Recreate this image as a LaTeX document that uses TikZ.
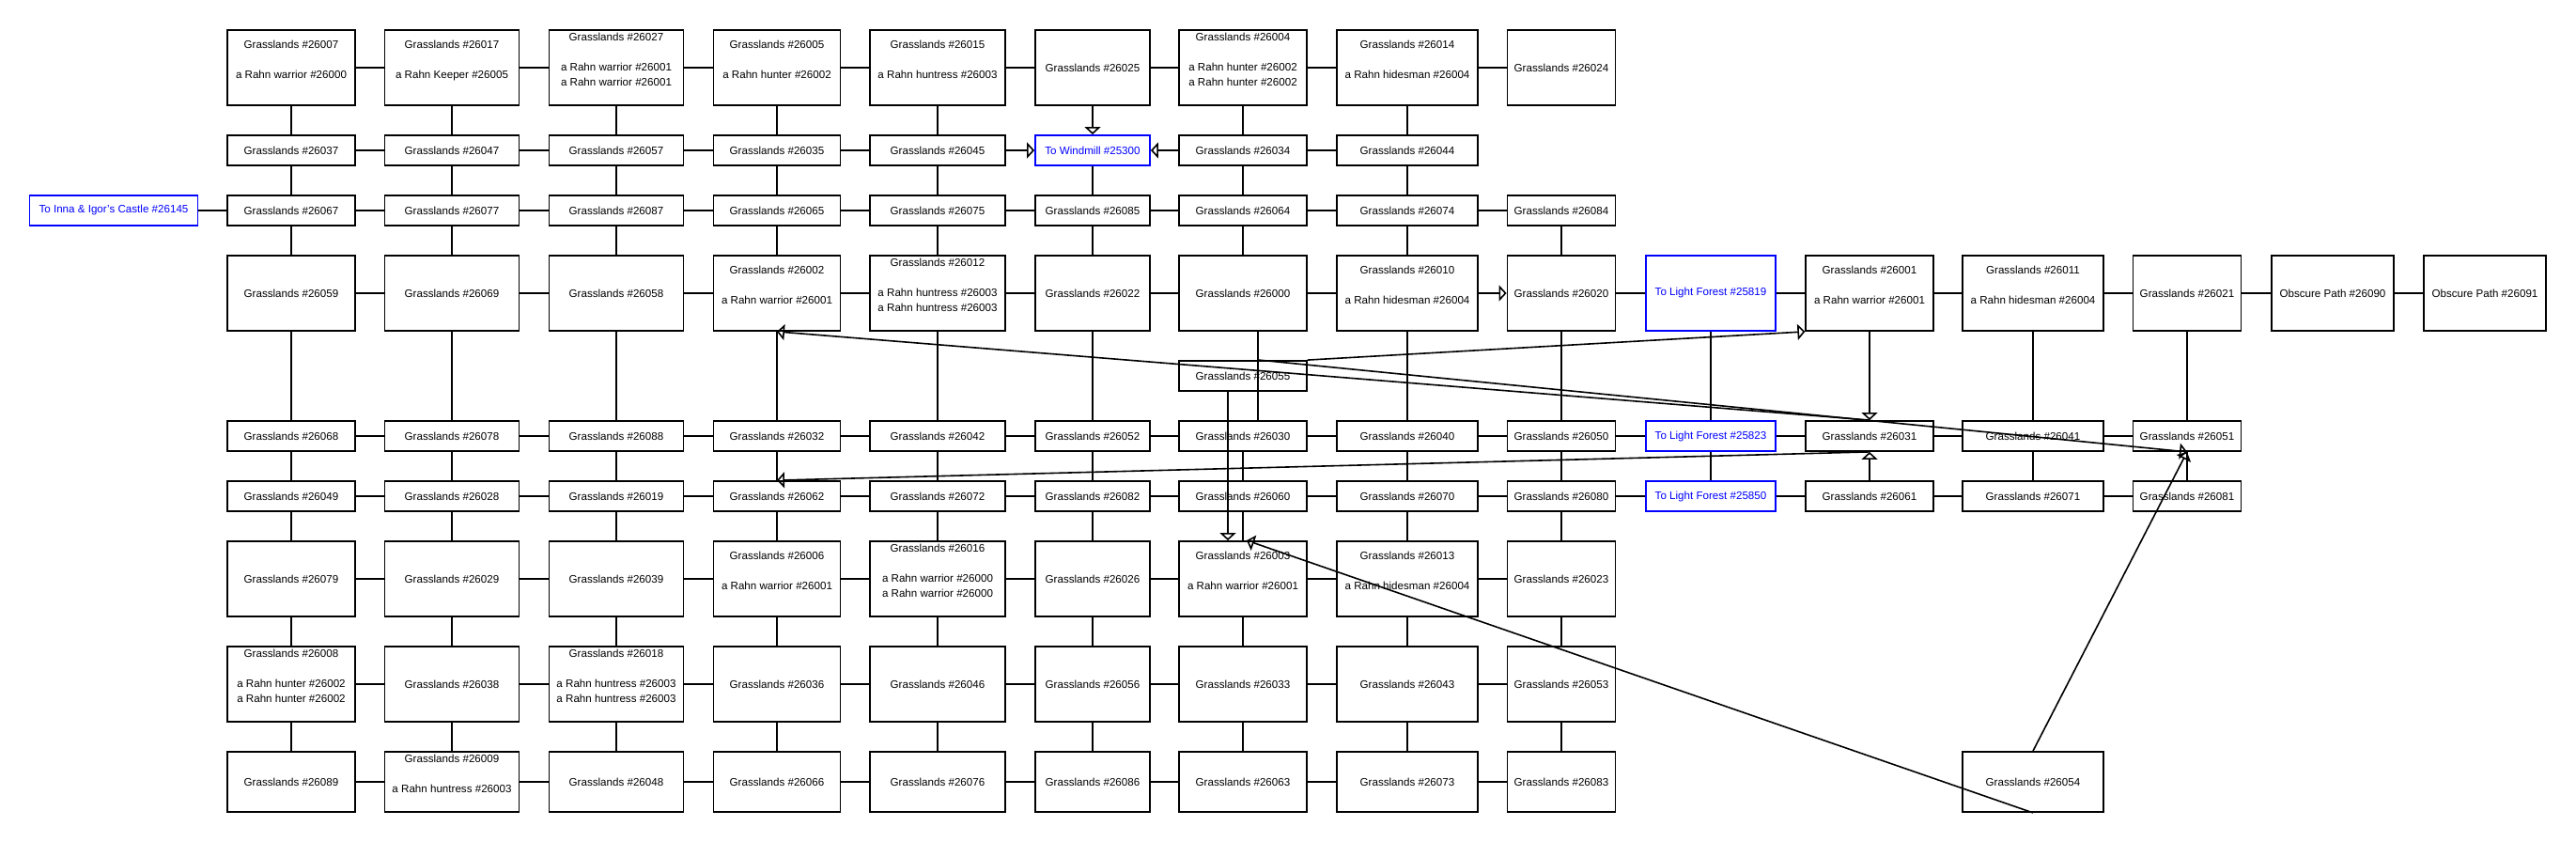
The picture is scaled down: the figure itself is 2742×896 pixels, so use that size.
\documentclass[tikz,border=0pt]{standalone}
\usepackage{fontspec}
\setmainfont{Liberation Sans}
\usetikzlibrary{arrows.meta}
\definecolor{exitblue}{HTML}{0000FF}

\tikzset{
  room/.style={draw, line width=1.8pt, inner sep=0pt, align=center, font=\fontsize{11.6}{16}\selectfont},
  exitroom/.style={room, draw=exitblue, text=exitblue},
  tallbox/.style={minimum height=80pt},
  flatbox/.style={minimum height=32pt},
  lowbox/.style={minimum height=64pt},
  colX/.style={minimum width=179pt},
  colA/.style={minimum width=135.5pt},
  colB/.style={minimum width=143pt},
  colC/.style={minimum width=143pt},
  colD/.style={minimum width=135pt},
  colE/.style={minimum width=143.5pt},
  colF/.style={minimum width=122pt},
  colG/.style={minimum width=135.5pt},
  colH/.style={minimum width=150pt},
  colI/.style={minimum width=115pt},
  colJ/.style={minimum width=138pt},
  colK/.style={minimum width=135.5pt},
  colL/.style={minimum width=150pt},
  colM/.style={minimum width=115pt},
  colN/.style={minimum width=130pt},
  colO/.style={minimum width=130pt},
  link/.style={line width=1.6pt},
  oneway/.style={link, -{Triangle[open, length=8pt, width=17pt]}}
}

\begin{document}
\begin{tikzpicture}[x=1pt, y=-1pt]
  \useasboundingbox (0,0) rectangle (2742,896);

  % row 1
  \node[room, tallbox, colA] (a1) at (310,72) {\strut Grasslands \#26007\\\strut\\\strut a Rahn warrior \#26000\\\strut};
  \node[room, tallbox, colB] (b1) at (481,72) {\strut Grasslands \#26017\\\strut\\\strut a Rahn Keeper \#26005\\\strut};
  \node[room, tallbox, colC] (c1) at (656,72) {\strut Grasslands \#26027\\\strut\\\strut a Rahn warrior \#26001\\\strut a Rahn warrior \#26001\\\strut};
  \node[room, tallbox, colD] (d1) at (827,72) {\strut Grasslands \#26005\\\strut\\\strut a Rahn hunter \#26002\\\strut};
  \node[room, tallbox, colE] (e1) at (998,72) {\strut Grasslands \#26015\\\strut\\\strut a Rahn huntress \#26003\\\strut};
  \node[room, tallbox, colF] (f1) at (1163,72) {Grasslands \#26025};
  \node[room, tallbox, colG] (g1) at (1323,72) {\strut Grasslands \#26004\\\strut\\\strut a Rahn hunter \#26002\\\strut a Rahn hunter \#26002\\\strut};
  \node[room, tallbox, colH] (h1) at (1498,72) {\strut Grasslands \#26014\\\strut\\\strut a Rahn hidesman \#26004\\\strut};
  \node[room, tallbox, colI] (i1) at (1662,72) {Grasslands \#26024};

  % row 2
  \node[room, flatbox, colA] (a2) at (310,160) {Grasslands \#26037};
  \node[room, flatbox, colB] (b2) at (481,160) {Grasslands \#26047};
  \node[room, flatbox, colC] (c2) at (656,160) {Grasslands \#26057};
  \node[room, flatbox, colD] (d2) at (827,160) {Grasslands \#26035};
  \node[room, flatbox, colE] (e2) at (998,160) {Grasslands \#26045};
  \node[exitroom, flatbox, colF] (f2) at (1163,160) {To Windmill \#25300};
  \node[room, flatbox, colG] (g2) at (1323,160) {Grasslands \#26034};
  \node[room, flatbox, colH] (h2) at (1498,160) {Grasslands \#26044};

  % row 3
  \node[exitroom, flatbox, colX] (castle) at (121,224) {To Inna \& Igor's Castle \#26145};
  \node[room, flatbox, colA] (a3) at (310,224) {Grasslands \#26067};
  \node[room, flatbox, colB] (b3) at (481,224) {Grasslands \#26077};
  \node[room, flatbox, colC] (c3) at (656,224) {Grasslands \#26087};
  \node[room, flatbox, colD] (d3) at (827,224) {Grasslands \#26065};
  \node[room, flatbox, colE] (e3) at (998,224) {Grasslands \#26075};
  \node[room, flatbox, colF] (f3) at (1163,224) {Grasslands \#26085};
  \node[room, flatbox, colG] (g3) at (1323,224) {Grasslands \#26064};
  \node[room, flatbox, colH] (h3) at (1498,224) {Grasslands \#26074};
  \node[room, flatbox, colI] (i3) at (1662,224) {Grasslands \#26084};

  % row 4
  \node[room, tallbox, colA] (a4) at (310,312) {Grasslands \#26059};
  \node[room, tallbox, colB] (b4) at (481,312) {Grasslands \#26069};
  \node[room, tallbox, colC] (c4) at (656,312) {Grasslands \#26058};
  \node[room, tallbox, colD] (d4) at (827,312) {\strut Grasslands \#26002\\\strut\\\strut a Rahn warrior \#26001\\\strut};
  \node[room, tallbox, colE] (e4) at (998,312) {\strut Grasslands \#26012\\\strut\\\strut a Rahn huntress \#26003\\\strut a Rahn huntress \#26003\\\strut};
  \node[room, tallbox, colF] (f4) at (1163,312) {Grasslands \#26022};
  \node[room, tallbox, colG] (g4) at (1323,312) {Grasslands \#26000};
  \node[room, tallbox, colH] (h4) at (1498,312) {\strut Grasslands \#26010\\\strut\\\strut a Rahn hidesman \#26004\\\strut};
  \node[room, tallbox, colI] (i4) at (1662,312) {Grasslands \#26020};
  \node[exitroom, tallbox, colJ] (j4) at (1821,312) {To Light Forest \#25819};
  \node[room, tallbox, colK] (k4) at (1990,312) {\strut Grasslands \#26001\\\strut\\\strut a Rahn warrior \#26001\\\strut};
  \node[room, tallbox, colL] (l4) at (2164,312) {\strut Grasslands \#26011\\\strut\\\strut a Rahn hidesman \#26004\\\strut};
  \node[room, tallbox, colM] (m4) at (2328,312) {Grasslands \#26021};
  \node[room, tallbox, colN] (n4) at (2483,312) {Obscure Path \#26090};
  \node[room, tallbox, colO] (o4) at (2645,312) {Obscure Path \#26091};

  % stray room between rows 4 and 5
  \node[room, flatbox, colG] (g45) at (1323,400) {Grasslands \#26055};

  % row 5
  \node[room, flatbox, colA] (a5) at (310,464) {Grasslands \#26068};
  \node[room, flatbox, colB] (b5) at (481,464) {Grasslands \#26078};
  \node[room, flatbox, colC] (c5) at (656,464) {Grasslands \#26088};
  \node[room, flatbox, colD] (d5) at (827,464) {Grasslands \#26032};
  \node[room, flatbox, colE] (e5) at (998,464) {Grasslands \#26042};
  \node[room, flatbox, colF] (f5) at (1163,464) {Grasslands \#26052};
  \node[room, flatbox, colG] (g5) at (1323,464) {Grasslands \#26030};
  \node[room, flatbox, colH] (h5) at (1498,464) {Grasslands \#26040};
  \node[room, flatbox, colI] (i5) at (1662,464) {Grasslands \#26050};
  \node[exitroom, flatbox, colJ] (j5) at (1821,464) {To Light Forest \#25823};
  \node[room, flatbox, colK] (k5) at (1990,464) {Grasslands \#26031};
  \node[room, flatbox, colL] (l5) at (2164,464) {Grasslands \#26041};
  \node[room, flatbox, colM] (m5) at (2328,464) {Grasslands \#26051};

  % row 6
  \node[room, flatbox, colA] (a6) at (310,528) {Grasslands \#26049};
  \node[room, flatbox, colB] (b6) at (481,528) {Grasslands \#26028};
  \node[room, flatbox, colC] (c6) at (656,528) {Grasslands \#26019};
  \node[room, flatbox, colD] (d6) at (827,528) {Grasslands \#26062};
  \node[room, flatbox, colE] (e6) at (998,528) {Grasslands \#26072};
  \node[room, flatbox, colF] (f6) at (1163,528) {Grasslands \#26082};
  \node[room, flatbox, colG] (g6) at (1323,528) {Grasslands \#26060};
  \node[room, flatbox, colH] (h6) at (1498,528) {Grasslands \#26070};
  \node[room, flatbox, colI] (i6) at (1662,528) {Grasslands \#26080};
  \node[exitroom, flatbox, colJ] (j6) at (1821,528) {To Light Forest \#25850};
  \node[room, flatbox, colK] (k6) at (1990,528) {Grasslands \#26061};
  \node[room, flatbox, colL] (l6) at (2164,528) {Grasslands \#26071};
  \node[room, flatbox, colM] (m6) at (2328,528) {Grasslands \#26081};

  % row 7
  \node[room, tallbox, colA] (a7) at (310,616) {Grasslands \#26079};
  \node[room, tallbox, colB] (b7) at (481,616) {Grasslands \#26029};
  \node[room, tallbox, colC] (c7) at (656,616) {Grasslands \#26039};
  \node[room, tallbox, colD] (d7) at (827,616) {\strut Grasslands \#26006\\\strut\\\strut a Rahn warrior \#26001\\\strut};
  \node[room, tallbox, colE] (e7) at (998,616) {\strut Grasslands \#26016\\\strut\\\strut a Rahn warrior \#26000\\\strut a Rahn warrior \#26000\\\strut};
  \node[room, tallbox, colF] (f7) at (1163,616) {Grasslands \#26026};
  \node[room, tallbox, colG] (g7) at (1323,616) {\strut Grasslands \#26003\\\strut\\\strut a Rahn warrior \#26001\\\strut};
  \node[room, tallbox, colH] (h7) at (1498,616) {\strut Grasslands \#26013\\\strut\\\strut a Rahn hidesman \#26004\\\strut};
  \node[room, tallbox, colI] (i7) at (1662,616) {Grasslands \#26023};

  % row 8
  \node[room, tallbox, colA] (a8) at (310,728) {\strut Grasslands \#26008\\\strut\\\strut a Rahn hunter \#26002\\\strut a Rahn hunter \#26002\\\strut};
  \node[room, tallbox, colB] (b8) at (481,728) {Grasslands \#26038};
  \node[room, tallbox, colC] (c8) at (656,728) {\strut Grasslands \#26018\\\strut\\\strut a Rahn huntress \#26003\\\strut a Rahn huntress \#26003\\\strut};
  \node[room, tallbox, colD] (d8) at (827,728) {Grasslands \#26036};
  \node[room, tallbox, colE] (e8) at (998,728) {Grasslands \#26046};
  \node[room, tallbox, colF] (f8) at (1163,728) {Grasslands \#26056};
  \node[room, tallbox, colG] (g8) at (1323,728) {Grasslands \#26033};
  \node[room, tallbox, colH] (h8) at (1498,728) {Grasslands \#26043};
  \node[room, tallbox, colI] (i8) at (1662,728) {Grasslands \#26053};

  % row 9
  \node[room, lowbox, colA] (a9) at (310,832) {Grasslands \#26089};
  \node[room, lowbox, colB] (b9) at (481,832) {\strut Grasslands \#26009\\\strut\\\strut a Rahn huntress \#26003\\\strut};
  \node[room, lowbox, colC] (c9) at (656,832) {Grasslands \#26048};
  \node[room, lowbox, colD] (d9) at (827,832) {Grasslands \#26066};
  \node[room, lowbox, colE] (e9) at (998,832) {Grasslands \#26076};
  \node[room, lowbox, colF] (f9) at (1163,832) {Grasslands \#26086};
  \node[room, lowbox, colG] (g9) at (1323,832) {Grasslands \#26063};
  \node[room, lowbox, colH] (h9) at (1498,832) {Grasslands \#26073};
  \node[room, lowbox, colI] (i9) at (1662,832) {Grasslands \#26083};
  \node[room, lowbox, colL] (l9) at (2164,832) {Grasslands \#26054};

  % east-west passages
  \foreach \r in {1,3,7,8,9}
    \foreach \p/\q in {a/b,b/c,c/d,d/e,e/f,f/g,g/h,h/i}
      \draw[link] (\p\r) -- (\q\r);
  \foreach \r in {5,6}
    \foreach \p/\q in {a/b,b/c,c/d,d/e,e/f,f/g,g/h,h/i,i/j,j/k,k/l,l/m}
      \draw[link] (\p\r) -- (\q\r);
  \foreach \p/\q in {a/b,b/c,c/d,d/e,g/h}
    \draw[link] (\p2) -- (\q2);
  \foreach \p/\q in {a/b,b/c,c/d,d/e,e/f,f/g,g/h,i/j,j/k,k/l,l/m,m/n,n/o}
    \draw[link] (\p4) -- (\q4);
  \draw[link] (castle) -- (a3);

  % north-south passages
  \foreach \c in {a,b,c,d,e,h}
    \foreach \r/\s in {1/2,2/3,3/4,4/5,5/6,6/7,7/8,8/9}
      \draw[link] (\c\r) -- (\c\s);
  \foreach \r/\s in {2/3,3/4,4/5,5/6,6/7,7/8,8/9}
    \draw[link] (f\r) -- (f\s);
  \foreach \r/\s in {1/2,2/3,3/4,5/6,6/7,7/8,8/9}
    \draw[link] (g\r) -- (g\s);
  \draw[link] ([xshift=16pt]g4.south) -- ([xshift=16pt]g5.north);
  \foreach \r/\s in {3/4,4/5,5/6,6/7,7/8,8/9}
    \draw[link] (i\r) -- (i\s);
  \foreach \c in {j,l,m}
    \foreach \r/\s in {4/5,5/6}
      \draw[link] (\c\r) -- (\c\s);

  % one-way exits
  \draw[oneway] (f1) -- (f2);
  \draw[oneway] (e2) -- (f2);
  \draw[oneway] (g2) -- (f2);
  \draw[oneway] (h4) -- (i4);
  \draw[oneway] (k4) -- (k5);
  \draw[oneway] (k6) -- (k5);
  \draw[oneway] (k5.north) -- (d4.south);
  \draw[oneway] (k5.south) -- (d6.north);
  \draw[oneway] ([xshift=-16pt]g45.south) -- ([xshift=-16pt]g7.north);
  \draw[oneway] (g45.north east) -- (k4.south west);
  \draw[oneway] ([xshift=17pt]g45.north) -- (m5.south);
  \draw[oneway] (l9.north) -- (m5.south);
  \draw[oneway] (l9.south) -- ([xshift=4pt]g7.north);
\end{tikzpicture}
\end{document}
